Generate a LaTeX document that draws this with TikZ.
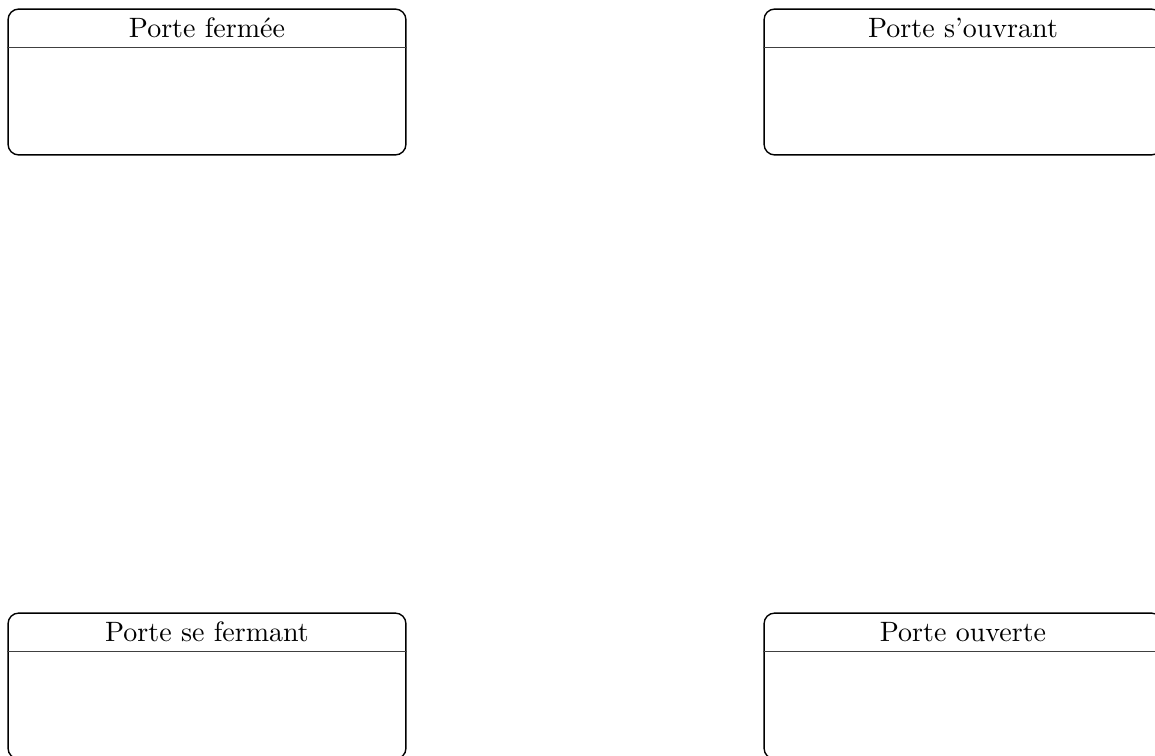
\documentclass[tikz,border=0pt]{standalone}
\begin{document}
\begin{tikzpicture}[x=0.35714pt,y=-0.35714pt,
  statebox/.style={draw, line width=0.5pt, rounded corners=3.8pt,
    minimum width=142.1pt, minimum height=52.1pt, inner sep=0pt},
  headline/.style={line width=0.45pt, draw=black!75},
  statetitle/.style={inner sep=0pt, anchor=center, font=\normalsize}]
\useasboundingbox (0,0) rectangle (1155,755);
\clip (0,0) rectangle (1155,755);
\node[statebox] (pf) at (207,82) {};
\node[statebox] (po) at (963,82) {};
\node[statebox] (psf) at (207,686) {};
\node[statebox] (pou) at (963,686) {};
\foreach \n/\t in {pf/{Porte fermée}, po/{Porte s'ouvrant}, psf/{Porte se fermant}, pou/{Porte ouverte}}{
  \draw[headline] ([yshift=-13.9pt]\n.north west) -- ([yshift=-13.9pt]\n.north east);
  \node[statetitle] (\n-t) at ([yshift=-6.9pt]\n.north) {\t};
}
\end{tikzpicture}
\end{document}
